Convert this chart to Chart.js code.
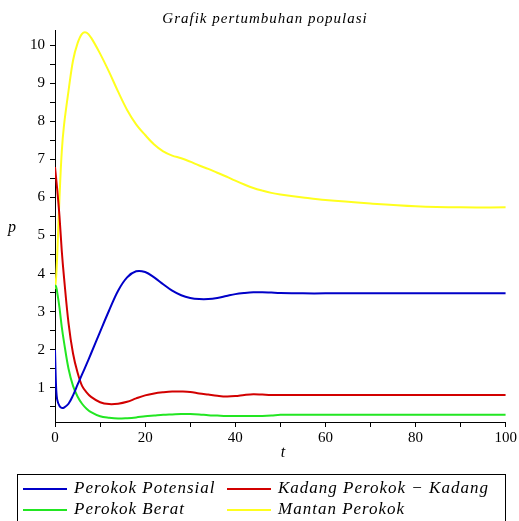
<!DOCTYPE html>
<html>
<head>
<meta charset="utf-8">
<title>Grafik pertumbuhan populasi</title>
<script src="https://cdn.jsdelivr.net/npm/chart.js@4.4.1/dist/chart.umd.min.js"></script>
<style>
html, body { margin: 0; padding: 0; background: #fff; }
#wadah { width: 519px; height: 521px; position: relative; }
</style>
</head>
<body>
<div id="wadah"><canvas id="grafikPopulasi"></canvas></div>
<script>
// data
var judul = 'Grafik pertumbuhan populasi';
var labelX = 't';
var labelY = 'p';

var waktu = [0, 0.25, 0.5, 1, 1.5, 2, 3, 4, 5, 6, 7, 8, 10, 12, 14, 16, 18, 20, 22, 24, 26, 28, 30,
	32, 34, 36, 38, 40, 42, 44, 46, 48, 50, 55, 60, 70, 80, 90, 100];

var perokokPotensial = [2.0, 1.0, 0.68, 0.52, 0.47, 0.48, 0.58, 0.8, 1.08, 1.35, 1.62, 1.9, 2.47, 3.03,
	3.55, 3.9, 4.06, 4.04, 3.9, 3.72, 3.55, 3.43, 3.36, 3.33, 3.33, 3.36, 3.41, 3.46, 3.49, 3.51,
	3.51, 3.5, 3.49, 3.48, 3.48, 3.48, 3.48, 3.48, 3.48];

var kadangPerokok = [6.8, 6.5, 6.2, 5.5, 4.6, 3.9, 2.7, 1.9, 1.4, 1.05, 0.88, 0.76, 0.62, 0.57, 0.58,
	0.63, 0.72, 0.8, 0.85, 0.88, 0.9, 0.9, 0.89, 0.85, 0.82, 0.79, 0.77, 0.78, 0.81, 0.83, 0.82,
	0.81, 0.81, 0.81, 0.81, 0.81, 0.81, 0.81, 0.81];

var perokokBerat = [3.7, 3.65, 3.5, 3.1, 2.6, 2.2, 1.5, 1.05, 0.77, 0.58, 0.45, 0.36, 0.25, 0.21, 0.19,
	0.2, 0.22, 0.25, 0.27, 0.29, 0.3, 0.31, 0.31, 0.3, 0.28, 0.27, 0.26, 0.26, 0.26, 0.26, 0.26,
	0.27, 0.29, 0.29, 0.29, 0.29, 0.29, 0.29, 0.29];

var mantanPerokok = [3.6, 3.9, 4.5, 6.0, 7.2, 7.9, 8.8, 9.6, 10.05, 10.3, 10.33, 10.2, 9.78, 9.3,
	8.78, 8.3, 7.92, 7.64, 7.39, 7.21, 7.1, 7.03, 6.94, 6.84, 6.75, 6.65, 6.55, 6.44, 6.34, 6.25,
	6.18, 6.12, 6.08, 6.0, 5.93, 5.84, 5.77, 5.74, 5.74];

var tickX = [0, 10, 20, 30, 40, 50, 60, 70, 80, 90, 100];
var tickY = [0.5, 1, 1.5, 2, 2.5, 3, 3.5, 4, 4.5, 5, 5.5, 6, 6.5, 7, 7.5, 8, 8.5, 9, 9.5, 10];

var namaSeri = ['Perokok Potensial', 'Kadang Perokok \u2212 Kadang', 'Perokok Berat', 'Mantan Perokok'];
var warnaSeri = ['#0000c8', '#d20000', '#22e622', '#ffff1e'];

function keTitik(nilai) {
	return nilai.map(function(v, i) { return { x: waktu[i], y: v }; });
}

var fontSerif = '"Liberation Serif", "DejaVu Serif", serif';

// judul, label sumbu dan legenda digambar sendiri
var teksTambahan = {
	id: 'teksTambahan',
	afterDraw: function(chart) {
		var ctx = chart.ctx;
		ctx.save();
		ctx.fillStyle = '#000';
		ctx.textBaseline = 'middle';

		ctx.font = 'italic 15px ' + fontSerif;
		ctx.textAlign = 'center';
		ctx.letterSpacing = '1px';
		ctx.fillText(judul, 265, 19);
		ctx.letterSpacing = '0px';

		ctx.font = 'italic 16px ' + fontSerif;
		ctx.fillText(labelY, 12, 228);
		ctx.fillText(labelX, 283, 453);

		// kotak legenda
		ctx.strokeStyle = '#000';
		ctx.lineWidth = 1;
		ctx.strokeRect(17.5, 474.5, 488, 60);

		var posisi = [
			{ x: 23, y: 489 }, { x: 227, y: 489 },
			{ x: 23, y: 510 }, { x: 227, y: 510 }
		];
		ctx.font = 'italic 17px ' + fontSerif;
		ctx.textAlign = 'left';
		chart.data.datasets.forEach(function(ds, i) {
			var p = posisi[i];
			ctx.strokeStyle = ds.borderColor;
			ctx.lineWidth = 2;
			ctx.beginPath();
			ctx.moveTo(p.x, p.y);
			ctx.lineTo(p.x + 44, p.y);
			ctx.stroke();
			ctx.fillStyle = '#000';
			ctx.letterSpacing = '1px';
			ctx.fillText(ds.label, p.x + 51, p.y);
			ctx.letterSpacing = '0px';
		});
		ctx.restore();
	}
};

var grafik = new Chart(document.getElementById('grafikPopulasi').getContext('2d'), {
	type: 'line',
	data: {
		datasets: [
			{ label: namaSeri[0], data: keTitik(perokokPotensial), borderColor: warnaSeri[0] },
			{ label: namaSeri[1], data: keTitik(kadangPerokok), borderColor: warnaSeri[1] },
			{ label: namaSeri[2], data: keTitik(perokokBerat), borderColor: warnaSeri[2] },
			{ label: namaSeri[3], data: keTitik(mantanPerokok), borderColor: warnaSeri[3] }
		]
	},
	options: {
		responsive: true,
		maintainAspectRatio: false,
		animation: false,
		devicePixelRatio: 1,
		layout: { padding: { top: 30, right: 12, left: 0, bottom: 0 } },
		elements: {
			point: { radius: 0 },
			line: { borderWidth: 2, tension: 0.35, fill: false }
		},
		plugins: {
			legend: { display: false },
			tooltip: { enabled: false },
			title: { display: false }
		},
		scales: {
			x: {
				type: 'linear',
				min: 0,
				max: 100,
				afterBuildTicks: function(ax) { ax.ticks = tickX.map(function(v) { return { value: v }; }); },
				afterFit: function(ax) { ax.height = 99; },
				ticks: {
					autoSkip: false,
					maxRotation: 0,
					padding: 2,
					color: '#000',
					font: { family: fontSerif, size: 15 },
					callback: function(v) { return v % 20 === 0 ? v : ''; }
				},
				grid: { drawOnChartArea: false, tickLength: 5, color: '#000' },
				border: { color: '#000', width: 1 }
			},
			y: {
				min: 0.1,
				max: 10.4,
				afterBuildTicks: function(ax) { ax.ticks = tickY.map(function(v) { return { value: v }; }); },
				afterFit: function(ax) { ax.width = 55; },
				ticks: {
					autoSkip: false,
					padding: 5,
					color: '#000',
					font: { family: fontSerif, size: 15 },
					callback: function(v) { return Number.isInteger(v) ? v : ''; }
				},
				grid: { drawOnChartArea: false, tickLength: 5, color: '#000' },
				border: { color: '#000', width: 1 }
			}
		}
	},
	plugins: [teksTambahan]
});
</script>
</body>
</html>
